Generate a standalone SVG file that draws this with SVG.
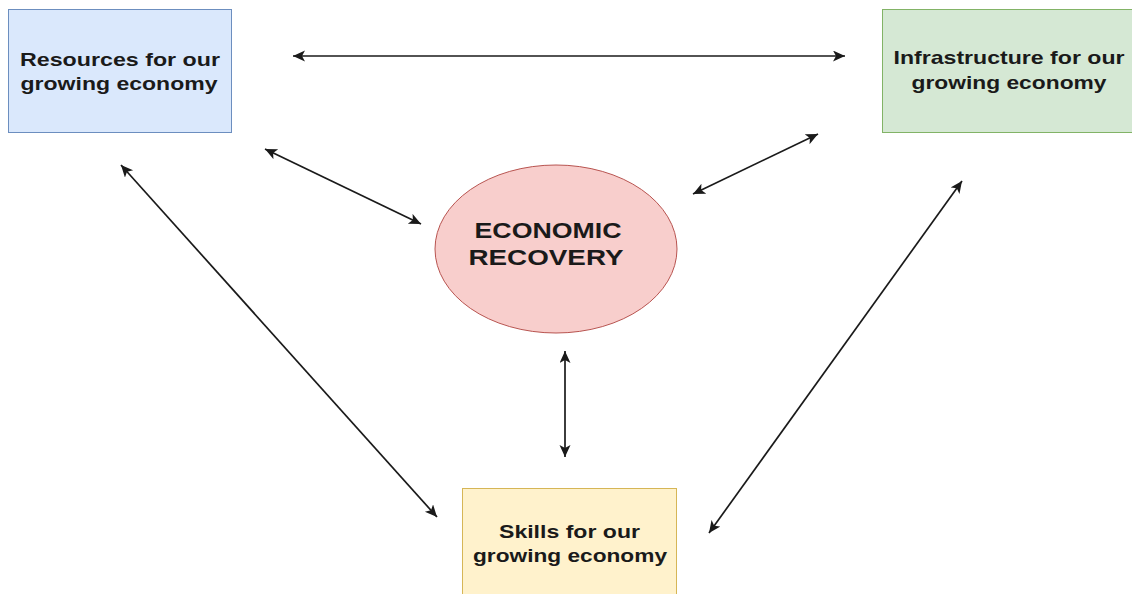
<svg xmlns="http://www.w3.org/2000/svg" width="1132" height="594" viewBox="0 0 1132 594">
<style>
.lbl{font-family:"Liberation Sans",Arial,sans-serif;font-weight:bold;font-size:19px;fill:#1a1a1a;text-anchor:middle}
.big{font-size:22px}
.conn{stroke:#1a1a1a;stroke-width:1.7;fill:none;marker-start:url(#ah);marker-end:url(#ah)}
</style>
<defs>
<marker id="ah" markerUnits="userSpaceOnUse" markerWidth="14" markerHeight="12" refX="12" refY="5.5" orient="auto-start-reverse">
<path d="M0,0 L12,5.5 L0,11 L3,5.5 z" fill="#1a1a1a"/>
</marker>
</defs>
<rect width="1132" height="594" fill="#ffffff"/>
<g id="connectors">
<line class="conn" x1="293" y1="56" x2="845" y2="56"/>
<line class="conn" x1="265" y1="149" x2="421" y2="224"/>
<line class="conn" x1="818" y1="134" x2="693" y2="194"/>
<line class="conn" x1="121" y1="165" x2="437" y2="517"/>
<line class="conn" x1="962" y1="181" x2="709" y2="533"/>
<line class="conn" x1="565" y1="351" x2="565" y2="457"/>
</g>
<g id="resources">
<rect x="8.5" y="9.5" width="223" height="123" fill="#dae8fc" stroke="#6c8ebf" stroke-width="1"/>
<text class="lbl" x="120" y="66" textLength="200" lengthAdjust="spacingAndGlyphs">Resources for our</text>
<text class="lbl" x="119" y="90" textLength="197" lengthAdjust="spacingAndGlyphs">growing economy</text>
</g>
<g id="infrastructure">
<rect x="882.5" y="9.5" width="260" height="123" fill="#d5e8d4" stroke="#82b366" stroke-width="1"/>
<text class="lbl" x="1009" y="64" textLength="231" lengthAdjust="spacingAndGlyphs">Infrastructure for our</text>
<text class="lbl" x="1009" y="89" textLength="195" lengthAdjust="spacingAndGlyphs">growing economy</text>
</g>
<g id="skills">
<rect x="462.5" y="488.5" width="214" height="120" fill="#fff2cc" stroke="#d6b656" stroke-width="1"/>
<text class="lbl" x="569.5" y="538" textLength="141" lengthAdjust="spacingAndGlyphs">Skills for our</text>
<text class="lbl" x="570" y="562" textLength="194" lengthAdjust="spacingAndGlyphs">growing economy</text>
</g>
<g id="recovery">
<ellipse cx="556" cy="249" rx="121" ry="84" fill="#f8cecc" stroke="#b85450" stroke-width="1"/>
<text class="lbl big" x="548" y="238" textLength="147" lengthAdjust="spacingAndGlyphs">ECONOMIC</text>
<text class="lbl big" x="546" y="265" textLength="155" lengthAdjust="spacingAndGlyphs">RECOVERY</text>
</g>
</svg>
